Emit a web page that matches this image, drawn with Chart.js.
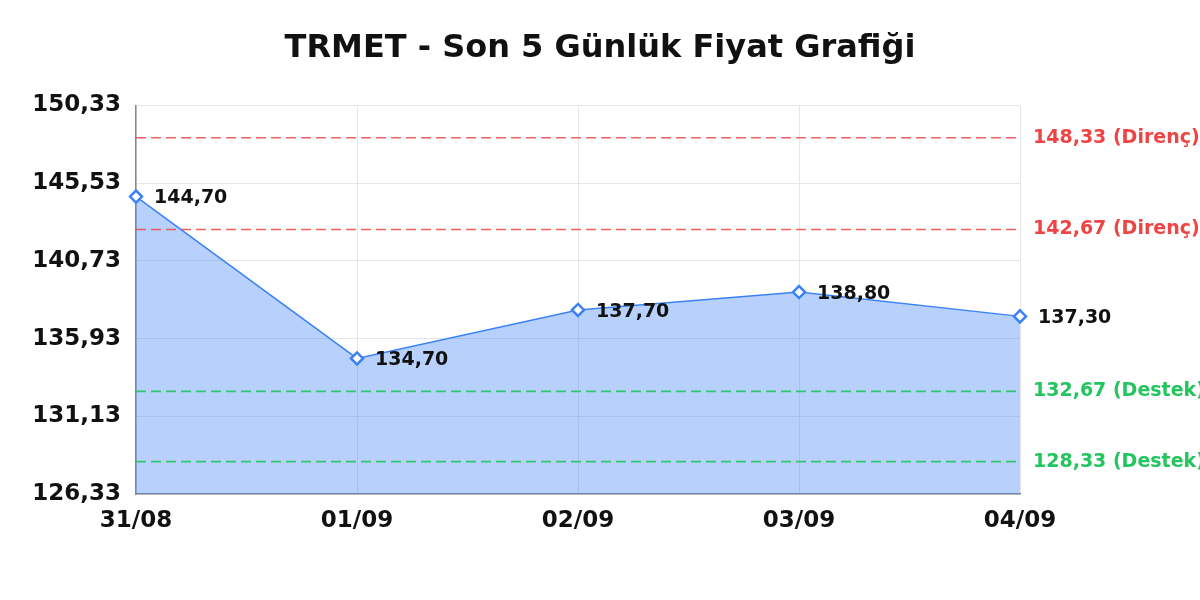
<!DOCTYPE html>
<html>
<head>
<meta charset="utf-8">
<script src="https://cdn.jsdelivr.net/npm/chart.js@4.4.0/dist/chart.umd.min.js"></script>
<style>
  html, body { margin: 0; padding: 0; background: #fff; }
  #wrap { width: 1200px; height: 600px; }
</style>
</head>
<body>
<div id="wrap"><canvas id="priceChart"></canvas></div>
<script>
// Price data
const dates = ["31/08", "01/09", "02/09", "03/09", "04/09"];
const prices = [144.70, 134.70, 137.70, 138.80, 137.30];

// Y axis ticks
const yTicks = [126.33, 131.13, 135.93, 140.73, 145.53, 150.33];

// Support / resistance levels
const resistance = [148.33, 142.67];
const support = [132.67, 128.33];

const FONT = "DejaVu Sans";
const fmt = v => v.toFixed(2).replace('.', ',');

// draws the level lines and the point labels
const levelsPlugin = {
    id: 'levels',
    afterDatasetsDraw(chart) {
        const ctx = chart.ctx;
        const area = chart.chartArea;
        const y = chart.scales.y;
        const drawLevel = (v, color, lineColor, name) => {
            const py = y.getPixelForValue(v);
            ctx.save();
            ctx.strokeStyle = lineColor;
            ctx.lineWidth = 1.6;
            ctx.setLineDash([10, 5]);
            ctx.beginPath();
            ctx.moveTo(area.left, py);
            ctx.lineTo(area.right, py);
            ctx.stroke();
            ctx.setLineDash([]);
            ctx.fillStyle = color;
            ctx.font = 'bold 19px ' + FONT;
            ctx.textAlign = 'left';
            ctx.textBaseline = 'middle';
            ctx.fillText(fmt(v) + ' (' + name + ')', area.right + 13, py);
            ctx.restore();
        };
        resistance.forEach(v => drawLevel(v, '#ef4444', 'rgba(239, 68, 68, 0.85)', 'Direnç'));
        support.forEach(v => drawLevel(v, '#22c55e', 'rgba(34, 197, 94, 0.9)', 'Destek'));

        // value labels next to each point
        const meta = chart.getDatasetMeta(0);
        ctx.save();
        ctx.fillStyle = '#111';
        ctx.font = 'bold 19px ' + FONT;
        ctx.textAlign = 'left';
        ctx.textBaseline = 'middle';
        meta.data.forEach((pt, i) => {
            ctx.fillText(fmt(prices[i]), pt.x + 18, pt.y + 2);
        });
        ctx.restore();
    }
};

const config = {
    type: 'line',
    data: {
        labels: dates,
        datasets: [{
            data: prices,
            borderColor: '#3b82f6',
            borderWidth: 1.5,
            backgroundColor: 'rgba(59, 130, 246, 0.37)',
            fill: 'start',
            tension: 0,
            pointStyle: 'rectRot',
            pointRadius: 6,
            pointBorderWidth: 2.5,
            pointBackgroundColor: '#fff',
            pointBorderColor: '#3b82f6'
        }]
    },
    options: {
        responsive: true,
        maintainAspectRatio: false,
        animation: false,
        layout: { padding: 0 },
        plugins: {
            legend: { display: false },
            tooltip: { enabled: false },
            title: {
                display: true,
                text: 'TRMET - Son 5 Günlük Fiyat Grafiği',
                color: '#111',
                font: { family: FONT, size: 32, weight: 'bold' },
                padding: { top: 29, bottom: 38 }
            }
        },
        scales: {
            x: {
                offset: false,
                grid: { color: '#e6e6e6', drawTicks: false },
                border: { color: '#888', width: 1.5 },
                ticks: {
                    color: '#111',
                    padding: 13,
                    maxRotation: 0,
                    font: { family: FONT, size: 23, weight: 'bold' }
                },
                afterFit(s) { s.height = 106; }
            },
            y: {
                min: yTicks[0],
                max: yTicks[yTicks.length - 1],
                afterBuildTicks(s) { s.ticks = yTicks.map(v => ({ value: v })); },
                grid: { color: '#e6e6e6', drawTicks: false },
                border: { color: '#888', width: 1.5 },
                ticks: {
                    color: '#111',
                    padding: 15,
                    callback: v => fmt(v),
                    font: { family: FONT, size: 23, weight: 'bold' }
                },
                afterFit(s) { s.width = 136; }
            },
            // empty right axis, only reserves room for the level labels
            side: {
                position: 'right',
                grid: { display: false },
                border: { display: false },
                ticks: { display: false },
                afterFit(s) { s.width = 180; }
            }
        }
    },
    plugins: [levelsPlugin]
};

document.addEventListener('DOMContentLoaded', function() {
    new Chart(document.getElementById('priceChart').getContext('2d'), config);
});
</script>
</body>
</html>
